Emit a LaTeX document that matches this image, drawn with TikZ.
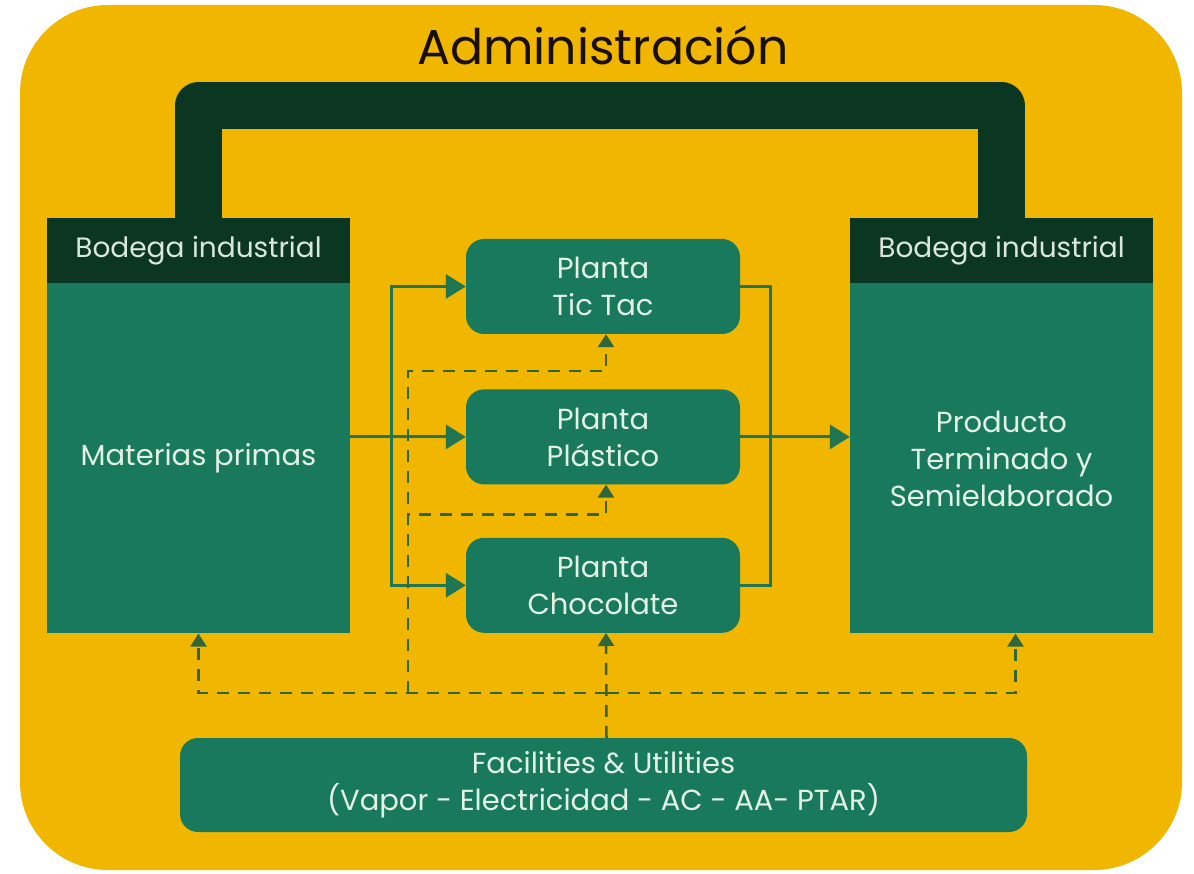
\documentclass[tikz,border=0pt]{standalone}
\usepackage{fontspec}
\setmainfont{Poppins}
\usetikzlibrary{arrows.meta, positioning, calc}
\definecolor{amarillo}{RGB}{240,182,0}
\definecolor{oscuro}{RGB}{11,54,33}
\definecolor{verde}{RGB}{24,121,92}
\definecolor{claro}{RGB}{228,242,230}
\definecolor{linea}{RGB}{32,118,82}

\begin{document}
\begin{tikzpicture}[x=1pt, y=-1pt, node distance=0pt,
    cab/.style={fill=oscuro, text=claro!90!gray, minimum width=303pt, minimum height=65pt,
                inner sep=0pt, font=\fontsize{28}{37}\selectfont},
    bod/.style={fill=verde, text=claro, minimum width=303pt, minimum height=350pt,
                inner sep=0pt, align=center, font=\fontsize{29}{37}\selectfont},
    planta/.style={fill=verde, text=claro, rounded corners=18pt, minimum width=274pt,
                minimum height=95pt, inner sep=0pt, align=center, font=\fontsize{29}{37}\selectfont},
    flujo/.style={draw=linea, line width=3pt, -{Triangle[length=20pt,width=24pt]}},
    flujolin/.style={draw=linea, line width=3pt},
    serv/.style={draw=linea!80!black!90!amarillo, line width=2.5pt, dash pattern=on 12pt off 9pt,
                -{Triangle[length=13pt,width=16pt]}}]
  \useasboundingbox (0,0) rectangle (1194,874);
  \fill[amarillo, rounded corners=88pt] (20,5) rectangle (1182,870);

  \node[font=\fontsize{49}{52}\selectfont, text=black!88!brown] (adm) at (603,45) {Administración};

  \node[cab] (cab_l) at (198.5,250.5) {Bodega industrial};
  \node[bod] (bod_l) [below=of cab_l] {Materias primas};
  \node[cab] (cab_r) at (1001.5,250.5) {Bodega industrial};
  \node[bod] (bod_r) [below=of cab_r] {Producto\\Terminado y\\Semielaborado};

  \node[planta] (pl_t) at (603,286.5)        {Planta\\Tic Tac};
  \node[planta] (pl_p) [below=55pt of pl_t] {Planta\\Plástico};
  \node[planta] (pl_c) [below=53pt of pl_p] {Planta\\Chocolate};

  \node[planta, minimum width=847pt, minimum height=94pt] (util) at (603.5,785)
       {Facilities \& Utilities\\(Vapor - Electricidad - AC - AA- PTAR)};

  \draw[oscuro, line width=47pt, line join=round]
       (cab_l.north) -- ++(0,-112) -| (cab_r.north);

  \coordinate (div) at ([xshift=41pt]bod_l.east |- pl_p.west);
  \coordinate (jun) at ([xshift=30pt]pl_p.east);
  \draw[flujo] (bod_l.east |- pl_p.west) -- (pl_p.west);
  \draw[flujo] (div) |- (pl_t.west);
  \draw[flujo] (div) |- (pl_c.west);
  \draw[flujolin] (pl_t.east) -| (jun);
  \draw[flujolin] (pl_c.east) -| (jun);
  \draw[flujo] (pl_p.east) -- (pl_p.east -| bod_r.west);

  \coordinate (hub) at ([xshift=3pt]util.north |- 0,693);
  \coordinate (sub) at (408,693);
  \draw[serv] ([xshift=3pt]util.north) -- ([xshift=3pt]pl_c.south);
  \draw[serv] (hub) -| (bod_l.south);
  \draw[serv] (hub) -| ([xshift=14pt]bod_r.south);
  \draw[serv] (sub) |- ([xshift=3pt,yshift=-37pt]pl_t.south) -- ([xshift=3pt]pl_t.south);
  \draw[serv] (sub) |- ([xshift=3pt,yshift=-30pt]pl_p.south) -- ([xshift=3pt]pl_p.south);
\end{tikzpicture}
\end{document}
